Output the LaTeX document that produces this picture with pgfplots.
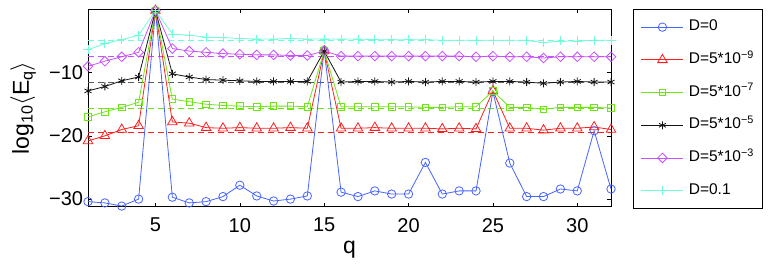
\documentclass[border=0pt]{standalone}
\usepackage{pgfplots}
\pgfplotsset{compat=1.18}
\usepackage{fontspec}
\setmainfont{Liberation Sans}
\definecolor{cBlue}{RGB}{70,100,255}
\definecolor{cRed}{RGB}{255,30,30}
\definecolor{cGreen}{RGB}{110,230,20}
\definecolor{cBlack}{RGB}{20,20,20}
\definecolor{cMag}{RGB}{200,80,255}
\definecolor{cCyan}{RGB}{110,255,215}
\begin{document}
\begin{tikzpicture}
\path[use as bounding box] (-88pt,-56.3pt) rectangle (680pt,206.7pt);
\begin{axis}[
  at={(0pt,0pt)}, anchor=south west,
  scale only axis, width=523pt, height=197.4pt,
  xmin=1, xmax=32, ymin=-31.2, ymax=0,
  clip=false,
  xtick={5,10,15,20,25,30},
  xticklabels={5,10,15,20,25,30},
  ytick={-30,-20,-10},
  yticklabels={−30,−20,−10},
  tick align=inside,
  major tick length=4pt,
  axis line style={black, line width=0.7pt},
  every tick/.style={black, line width=0.6pt},
  xticklabel style={font=\fontsize{20}{20}\selectfont, inner sep=0pt, anchor=north, yshift=-11.3pt},
  yticklabel style={font=\fontsize{20}{20}\selectfont, inner sep=0pt, anchor=east, xshift=-4.7pt},
  xlabel={q},
  xlabel style={font=\fontsize{23}{23}\selectfont, at={(axis description cs:0.5,0)}, anchor=north, inner sep=0pt, yshift=-34pt},
  ylabel={log\textsubscript{10}$\langle$E\textsubscript{q}$\rangle$},
  ylabel style={font=\fontsize{23}{23}\selectfont, at={(axis description cs:-0.1243,0.5)}, anchor=center, inner sep=0pt},
  legend style={at={(1.0415,1)}, anchor=north west, draw=black, line width=0.7pt,
    font=\fontsize{15.5}{15.5}\selectfont, inner xsep=8pt, inner ysep=10pt,
    row sep=17.7pt, column sep=5pt,
    nodes={inner sep=0pt, text height=11pt, text depth=4pt}},
  legend cell align=left,
  legend image code/.code={\draw[mark repeat=2,mark phase=2] plot coordinates {(0pt,0pt) (21pt,0pt) (42pt,0pt)};},
  every axis plot/.append style={line width=0.8pt},
]
% dashed reference levels
\addplot[cRed, dashed, dash pattern=on 6pt off 4pt, forget plot] coordinates {(1,-19.5) (32,-19.5)};
\addplot[cGreen, dashed, dash pattern=on 6pt off 4pt, forget plot] coordinates {(1,-15.6) (32,-15.6)};
\addplot[cBlack!70, dashed, dash pattern=on 6pt off 4pt, forget plot] coordinates {(1,-11.5) (32,-11.5)};
\addplot[cMag, dashed, dash pattern=on 6pt off 4pt, forget plot] coordinates {(1,-7.5) (32,-7.5)};
\addplot[cCyan, dashed, dash pattern=on 6pt off 4pt, forget plot] coordinates {(1,-4.9) (32,-4.9)};
% D=0
\addplot[cBlue, mark=o, mark size=4.2pt, mark options={line width=0.8pt}] table {
1 -30.4
2 -30.6
3 -31.1
4 -30.0
5 -0.2
6 -29.7
7 -30.6
8 -30.4
9 -29.6
10 -27.8
11 -29.5
12 -30.3
13 -30.0
14 -29.5
15 -6.5
16 -28.9
17 -29.6
18 -28.7
19 -29.2
20 -29.2
21 -24.2
22 -29.2
23 -28.7
24 -28.7
25 -13.0
26 -24.3
27 -29.6
28 -29.6
29 -28.4
30 -28.7
31 -19.2
32 -28.4
};
\addlegendentry{D=0}
% D=5e-9
\addplot[cRed, mark=triangle, mark size=5.5pt, mark options={line width=0.8pt}] table {
1 -20.8
2 -20.0
3 -19.0
4 -18.4
5 -0.2
6 -17.8
7 -18.0
8 -18.7
9 -18.8
10 -18.7
11 -18.8
12 -18.8
13 -18.7
14 -18.8
15 -6.6
16 -18.8
17 -18.8
18 -18.7
19 -18.8
20 -18.8
21 -18.8
22 -18.9
23 -18.8
24 -18.9
25 -12.9
26 -18.8
27 -18.8
28 -19.1
29 -18.8
30 -18.8
31 -18.6
32 -19.0
};
\addlegendentry{D=5*10\textsuperscript{−9}}
% D=5e-7
\addplot[cGreen, mark=square, mark size=3.3pt, mark options={line width=0.8pt}] table {
1 -17.0
2 -16.2
3 -15.5
4 -14.7
5 -0.2
6 -14.2
7 -14.6
8 -15.0
9 -15.2
10 -15.3
11 -15.4
12 -15.3
13 -15.3
14 -15.4
15 -6.6
16 -15.4
17 -15.4
18 -15.4
19 -15.4
20 -15.4
21 -15.5
22 -15.5
23 -15.4
24 -15.4
25 -12.9
26 -15.5
27 -15.5
28 -15.8
29 -15.5
30 -15.5
31 -15.5
32 -15.6
};
\addlegendentry{D=5*10\textsuperscript{−7}}
% D=5e-5
\addplot[cBlack, mark=asterisk, mark size=4pt, mark options={line width=0.8pt}] table {
1 -12.9
2 -12.2
3 -11.3
4 -10.7
5 -0.2
6 -10.2
7 -10.7
8 -11.1
9 -11.2
10 -11.3
11 -11.4
12 -11.4
13 -11.4
14 -11.4
15 -6.6
16 -11.5
17 -11.4
18 -11.4
19 -11.5
20 -11.4
21 -11.5
22 -11.4
23 -11.4
24 -11.5
25 -11.4
26 -11.4
27 -11.5
28 -11.7
29 -11.5
30 -11.4
31 -11.5
32 -11.5
};
\addlegendentry{D=5*10\textsuperscript{−5}}
% D=5e-3
\addplot[cMag, mark=square, mark size=3.4pt, mark options={rotate=45, line width=0.8pt}] table {
1 -9.0
2 -8.2
3 -7.5
4 -6.8
5 -0.2
6 -6.2
7 -6.6
8 -6.8
9 -7.0
10 -7.1
11 -7.2
12 -7.2
13 -7.3
14 -7.3
15 -6.6
16 -7.4
17 -7.4
18 -7.4
19 -7.4
20 -7.4
21 -7.4
22 -7.4
23 -7.4
24 -7.5
25 -7.4
26 -7.5
27 -7.5
28 -7.7
29 -7.5
30 -7.5
31 -7.5
32 -7.5
};
\addlegendentry{D=5*10\textsuperscript{−3}}
% D=0.1
\addplot[cCyan, mark=+, mark size=4.5pt, mark options={line width=0.8pt}] table {
1 -6.4
2 -5.4
3 -4.8
4 -4.1
5 -0.2
6 -3.9
7 -4.1
8 -4.4
9 -4.5
10 -4.6
11 -4.7
12 -4.7
13 -4.6
14 -4.7
15 -4.7
16 -4.7
17 -4.7
18 -4.8
19 -4.8
20 -4.8
21 -4.8
22 -4.9
23 -4.9
24 -4.9
25 -4.9
26 -4.9
27 -4.9
28 -5.3
29 -5.0
30 -5.0
31 -4.9
32 -4.9
};
\addlegendentry{D=0.1}
\end{axis}
\end{tikzpicture}
\end{document}
